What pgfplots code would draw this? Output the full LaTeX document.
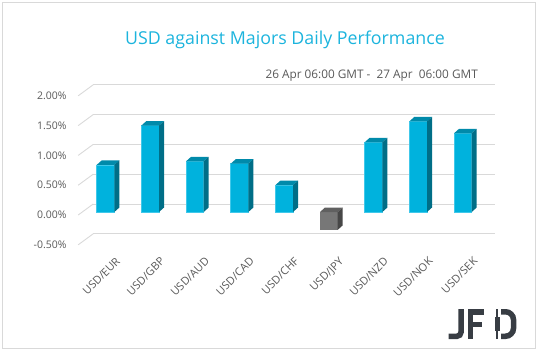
\documentclass[border=0pt]{standalone}
\usepackage{pgfplots}
\pgfplotsset{compat=1.18}
\usepackage{fontspec}
\setmainfont{Open Sans}
\definecolor{gridc}{HTML}{D9D9D9}
\definecolor{txt}{HTML}{595959}
\definecolor{ttl}{HTML}{1CB4DD}
\definecolor{cfront}{HTML}{00B2DD}
\definecolor{ctop}{HTML}{008AAA}
\definecolor{cside}{HTML}{006E87}
\definecolor{cedge}{HTML}{40C8EA}
\definecolor{gfront}{HTML}{777777}
\definecolor{gtop}{HTML}{606060}
\definecolor{gside}{HTML}{474747}
\definecolor{logoc}{HTML}{383D44}

% top and side faces of a 3D bar: #1 x, #2 value, #3 top colour, #4 side colour
\newcommand\threedfaces[4]{%
 \pgfmathsetmacro\tdXl{#1-0.1981}%
 \pgfmathsetmacro\tdXr{#1+0.1981}%
 \pgfmathsetmacro\tdXrr{#1+0.31}%
 \pgfmathsetmacro\tdXll{#1-0.0862}%
 \pgfmathsetmacro\tdYhi{max(#2,0)}%
 \pgfmathsetmacro\tdYlo{min(#2,0)}%
 \pgfmathsetmacro\tdYhit{\tdYhi+0.0755}%
 \pgfmathsetmacro\tdYlot{\tdYlo+0.0755}%
 \edef\tdtmp{\noexpand\addplot[fill=#3,draw=none] coordinates {(\tdXl,\tdYhi) (\tdXr,\tdYhi) (\tdXrr,\tdYhit) (\tdXll,\tdYhit)} --cycle;
  \noexpand\addplot[fill=#4,draw=none] coordinates {(\tdXr,\tdYlo) (\tdXr,\tdYhi) (\tdXrr,\tdYhit) (\tdXrr,\tdYlot)} --cycle;}%
 \tdtmp
}

\begin{document}
\begin{tikzpicture}
\useasboundingbox (0,0) rectangle (538pt,351pt);
\draw[color=gridc, line width=0.8pt] (2.5pt,3pt) rectangle (535.5pt,348.5pt);
\node[anchor=base, text=ttl, font=\fontsize{17.8}{20}\selectfont, inner sep=0pt] at (285pt,306pt) {USD against Majors Daily Performance};
\node[anchor=base east, text=txt, font=\fontsize{11.8}{13}\selectfont, inner sep=0pt] at (478pt,272pt) {26 Apr 06:00 GMT -\ \ 27 Apr\ \ 06:00 GMT};
\begin{axis}[
 at={(83.2pt,109.2pt)}, anchor=south west,
 scale only axis, width=402pt, height=149pt,
 xmin=-0.5, xmax=8.5, ymin=-0.5, ymax=2,
 clip=false,
 axis line style={draw=none},
 major tick length=0pt,
 ytick={-0.5,0,0.5,1,1.5,2},
 yticklabels={-0.50\%,0.00\%,0.50\%,1.00\%,1.50\%,2.00\%},
 xtick={0,1,2,3,4,5,6,7,8},
 xticklabels={USD/EUR,USD/GBP,USD/AUD,USD/CAD,USD/CHF,USD/JPY,USD/NZD,USD/NOK,USD/SEK},
 ticklabel style={text=txt},
 yticklabel style={font=\fontsize{10.5}{12}\selectfont, anchor=east, inner sep=0pt, xshift=-16.5pt, yshift=-3pt},
 xticklabel style={font=\fontsize{11}{13}\selectfont, rotate=45, anchor=north east, inner sep=0pt, xshift=-3.5pt, yshift=-17pt},
]
\pgfplotsinvokeforeach{-0.5,0,0.5,1,1.5,2}{
 \draw[gridc, line width=0.9pt] ([shift={(10pt,8pt)}]axis cs:-0.5,#1) -- ([shift={(10pt,8pt)}]axis cs:8.5,#1);
 \draw[gridc, line width=0.9pt] ([shift={(10pt,8pt)}]axis cs:-0.5,#1) -- ([shift={(-5pt,-3pt)}]axis cs:-0.5,#1);
}
\addplot[ybar, bar width=17.7pt, bar shift=0pt, fill=cfront, draw=cedge, line width=0.5pt]
 coordinates {(0,0.79) (1,1.45) (2,0.85) (3,0.81) (4,0.45) (6,1.17) (7,1.52) (8,1.32)};
\addplot[ybar, bar width=17.7pt, bar shift=0pt, fill=gfront, draw=none]
 coordinates {(5,-0.30)};
\threedfaces{0}{0.79}{ctop}{cside}
\threedfaces{1}{1.45}{ctop}{cside}
\threedfaces{2}{0.85}{ctop}{cside}
\threedfaces{3}{0.81}{ctop}{cside}
\threedfaces{4}{0.45}{ctop}{cside}
\threedfaces{5}{-0.30}{gtop}{gside}
\threedfaces{6}{1.17}{ctop}{cside}
\threedfaces{7}{1.52}{ctop}{cside}
\threedfaces{8}{1.32}{ctop}{cside}
\end{axis}
% JFD logo
\draw[logoc, line width=5.5pt, rounded corners=4pt] (461pt,42pt) -- (461pt,14.75pt) -- (448.5pt,14.75pt);
\fill[logoc] (467.5pt,12pt) rectangle (473pt,42pt);
\fill[logoc] (473pt,36.5pt) rectangle (483.5pt,42pt);
\fill[logoc] (473pt,24pt) rectangle (481.5pt,29.5pt);
\draw[logoc, line width=1.2pt] (497pt,12pt) -- (497pt,42pt);
\fill[logoc] (494.5pt,20pt) rectangle (499.5pt,34pt);
\draw[logoc, line width=5.5pt, rounded corners=8pt] (501pt,39.25pt) -- (513.5pt,39.25pt) -- (513.5pt,14.75pt) -- (501pt,14.75pt);
\end{tikzpicture}
\end{document}
